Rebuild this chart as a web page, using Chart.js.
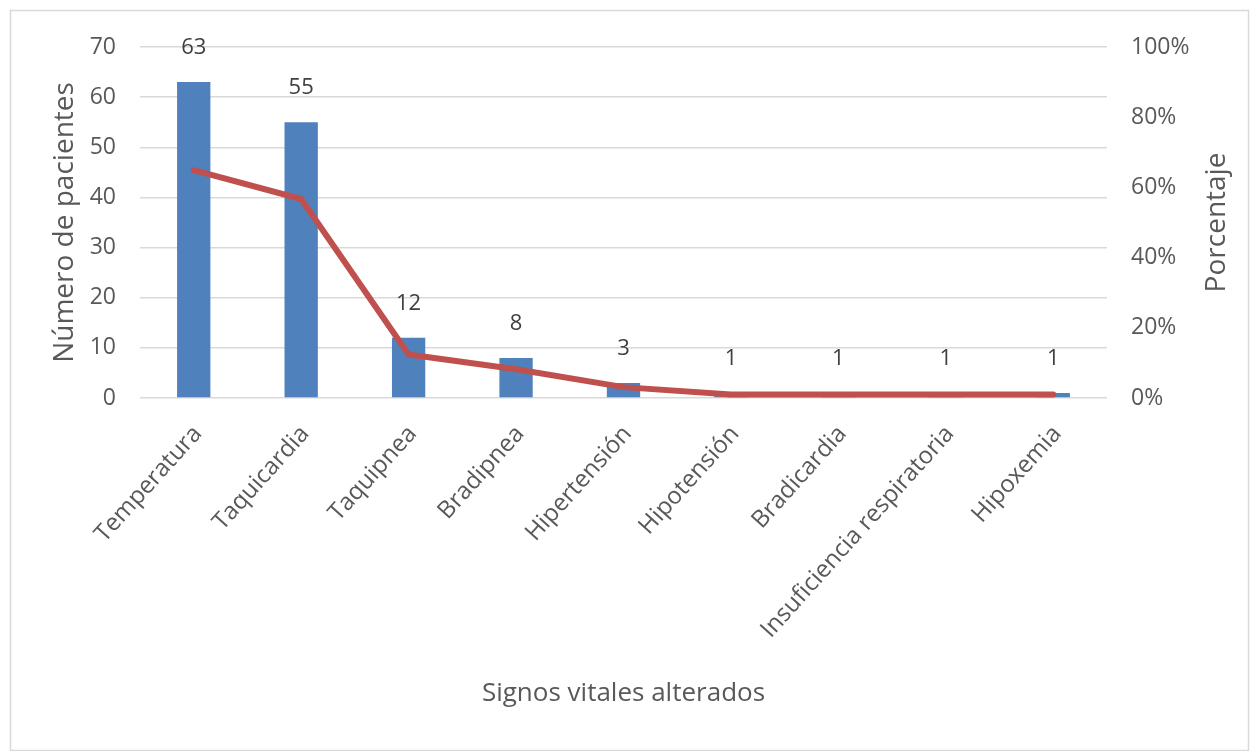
<!DOCTYPE html>
<html>
<head>
<meta charset="utf-8">
<script src="https://cdn.jsdelivr.net/npm/chart.js@4"></script>
<style>
  body { margin: 0; background: #fff; }
  #wrap { width: 1259px; height: 751px; position: relative; }
</style>
</head>
<body>
<div id="wrap"><canvas id="myChart" width="1259" height="751"></canvas></div>
<script>
// datos
var signos = ["Temperatura", "Taquicardia", "Taquipnea", "Bradipnea", "Hipertensión",
  "Hipotensión", "Bradicardia", "Insuficiencia respiratoria", "Hipoxemia"];
var pacientes = [63, 55, 12, 8, 3, 1, 1, 1, 1];
var porcentaje = [64.9, 56.7, 12.4, 8.2, 3.1, 1.0, 1.0, 1.0, 1.0];
var ticksPct = [0, 20, 40, 60, 80, 100];

var fuente = "'Open Sans', sans-serif";
var gris = "#595959";

// etiquetas encima de las barras (dataset 1 = barras)
const etiquetas = {
  id: "etiquetas",
  afterDatasetsDraw(chart) {
    const ctx = chart.ctx;
    const meta = chart.getDatasetMeta(1);
    ctx.save();
    ctx.font = "22px " + fuente;
    ctx.fillStyle = "#404040";
    ctx.textAlign = "center";
    ctx.textBaseline = "middle";
    meta.data.forEach(function (bar, i) {
      ctx.fillText(pacientes[i], bar.x, bar.y - 34);
    });
    ctx.restore();
  },
};

// marco exterior y título del eje derecho (leído de abajo hacia arriba)
const marco = {
  id: "marco",
  beforeDraw(chart) {
    const ctx = chart.ctx;
    ctx.save();
    ctx.strokeStyle = "#d9d9d9";
    ctx.lineWidth = 1.5;
    ctx.strokeRect(10.5, 10.5, 1238, 740);
    ctx.restore();
  },
  afterDraw(chart) {
    const ctx = chart.ctx;
    const a = chart.chartArea;
    ctx.save();
    ctx.translate(1217, (a.top + a.bottom) / 2);
    ctx.rotate(-Math.PI / 2);
    ctx.font = "28px " + fuente;
    ctx.fillStyle = gris;
    ctx.textAlign = "center";
    ctx.textBaseline = "middle";
    ctx.fillText("Porcentaje", 0, 0);
    ctx.restore();
  },
};

let config = {
  data: {
    labels: signos,
    datasets: [
      {
        type: "line",
        label: "Porcentaje",
        data: porcentaje,
        yAxisID: "y2",
        borderColor: "#C0504D",
        borderWidth: 6,
        pointRadius: 0,
        tension: 0,
        borderCapStyle: "round",
        borderJoinStyle: "round",
        order: 0,
      },
      {
        type: "bar",
        label: "Número de pacientes",
        data: pacientes,
        yAxisID: "y",
        backgroundColor: "#4F81BD",
        barPercentage: 0.31,
        categoryPercentage: 1,
        order: 1,
      },
    ],
  },
  options: {
    responsive: false,
    animation: false,
    layout: { padding: { top: 47, right: 0, left: 0, bottom: 0 } },
    plugins: { legend: { display: false }, tooltip: { enabled: false } },
    scales: {
      x: {
        grid: { display: false },
        border: { display: false },
        ticks: {
          color: gris,
          font: { family: fuente, size: 24 },
          minRotation: 48,
          maxRotation: 48,
          padding: 14,
          labelOffset: 4,
        },
        title: {
          display: true,
          text: "Signos vitales alterados",
          color: gris,
          font: { family: fuente, size: 26 },
          padding: { top: 0, bottom: 42 },
        },
        afterFit(scale) { scale.height = 353; },
      },
      y: {
        position: "left",
        min: 0,
        max: 70,
        ticks: {
          stepSize: 10,
          color: gris,
          font: { family: fuente, size: 23 },
          padding: 24,
        },
        grid: { color: "#d9d9d9", lineWidth: 1.5, drawTicks: false },
        border: { display: false },
        title: {
          display: true,
          text: "Número de pacientes",
          color: gris,
          font: { family: fuente, size: 28 },
          padding: { top: 48, bottom: 0 },
        },
        afterFit(scale) { scale.width = 140; },
      },
      y2: {
        position: "right",
        min: 0,
        max: 100,
        afterBuildTicks(scale) {
          scale.ticks = ticksPct.map(function (v) { return { value: v }; });
        },
        ticks: {
          color: gris,
          font: { family: fuente, size: 23 },
          padding: 24,
          callback: function (v) { return v + "%"; },
        },
        grid: { display: false, drawTicks: false },
        border: { display: false },
        afterFit(scale) { scale.width = 152; },
      },
    },
  },
  plugins: [marco, etiquetas],
};

var myChart = new Chart(document.getElementById("myChart"), config);
</script>
</body>
</html>
